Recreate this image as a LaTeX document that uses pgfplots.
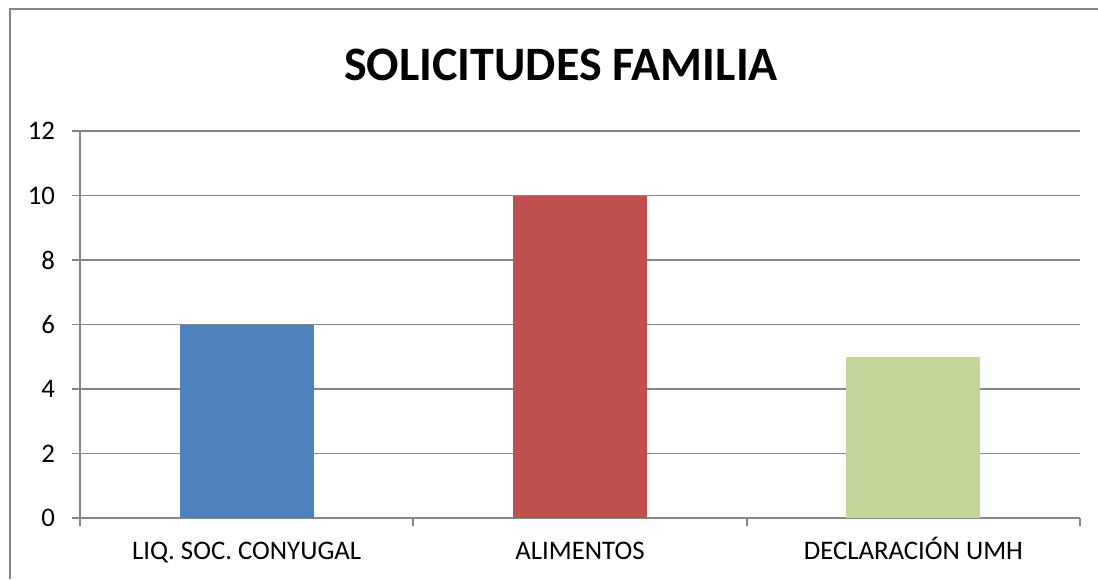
\documentclass[border=0pt]{standalone}
\usepackage{fontspec}
\setmainfont{Carlito}
\usepackage{pgfplots}
\pgfplotsset{compat=1.18}
\definecolor{gridgray}{HTML}{868686}
\definecolor{barblue}{HTML}{4F81BD}
\definecolor{barred}{HTML}{C0504D}
\definecolor{bargreen}{HTML}{C3D69B}

\begin{document}
\begin{tikzpicture}[x=1pt,y=1pt]
\useasboundingbox (0,0) rectangle (549,289.5);
\fill[white] (0,0) rectangle (549,289.5);
\draw[gridgray,line width=1pt] (4.75,0) -- (4.75,284.75) -- (549,284.75);
\node[font=\fontsize{24}{28}\selectfont\bfseries] at (280.5,257) {SOLICITUDES FAMILIA};
\begin{axis}[at={(40pt,30.5pt)},anchor=south west,scale only axis,
  width=500pt,height=193.5pt,
  xmin=-0.5,xmax=2.5,ymin=0,ymax=12,
  ytick={0,2,...,12},
  xtick={0,1,2},
  xticklabels={LIQ. SOC. CONYUGAL,ALIMENTOS,DECLARACIÓN UMH},
  minor xtick={-0.5,0.5,1.5,2.5},
  major x tick style={draw=none},
  tick align=outside,tick pos=left,
  major tick length=4pt,minor tick length=4pt,
  tick style={gridgray,line width=0.85pt},
  axis x line*=bottom,axis y line*=left,
  axis line style={gridgray,line width=0.85pt,-},
  ymajorgrids,grid style={gridgray,line width=0.85pt},
  /pgf/number format/assume math mode=true,
  tick label style={font=\fontsize{13.4}{15}\selectfont},
  yticklabel style={xshift=-5pt},
  xticklabel style={anchor=base,yshift=-16.5pt},
  ybar,bar width=67pt,
  clip=false]
\addplot[fill=barblue,draw=none,bar shift=0pt] coordinates {(0,6)};
\addplot[fill=barred,draw=none,bar shift=0pt] coordinates {(1,10)};
\addplot[fill=bargreen,draw=none,bar shift=0pt] coordinates {(2,5)};
\end{axis}
\end{tikzpicture}
\end{document}
